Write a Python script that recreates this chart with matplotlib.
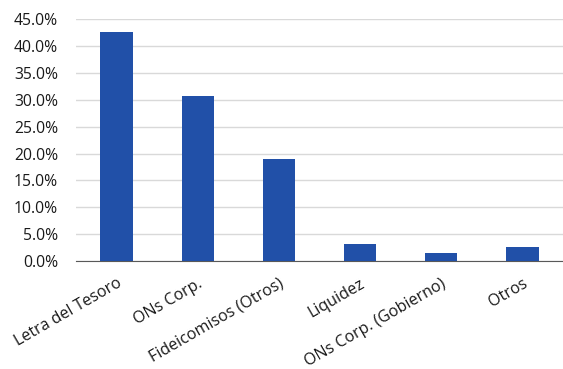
import matplotlib
matplotlib.use("Agg")
import matplotlib.pyplot as plt
from matplotlib.ticker import PercentFormatter, MultipleLocator

categories = ["Letra del Tesoro", "ONs Corp.", "Fideicomisos (Otros)", "Liquidez",
              "ONs Corp. (Gobierno)", "Otros"]
values = [42.7, 30.8, 19.0, 3.2, 1.4, 2.6]

plt.rcParams['font.family'] = ['Open Sans', 'DejaVu Sans']

fig = plt.figure(figsize=(5.63, 3.69), dpi=100)
ax = fig.add_axes([76/563, 1-261/369, 1-76/563, (261-19.3)/369])

x = range(len(categories))
ax.bar(x, values, width=0.4, color="#2150A8", zorder=3)
ax.set_xlim(-0.5, len(categories)-0.5)
ax.set_ylim(0, 45)
ax.yaxis.set_major_locator(MultipleLocator(5))
ax.yaxis.set_major_formatter(PercentFormatter(decimals=1))
ax.grid(axis='y', color="#d9d9d9", linewidth=1, zorder=0)
ax.set_xticks(list(x))
ax.set_xticklabels(categories, rotation=30, ha='right', rotation_mode='anchor')
for s in ['top', 'right', 'left']:
    ax.spines[s].set_visible(False)
ax.spines['bottom'].set_color("#595959")
ax.tick_params(axis='both', length=0, colors="#1a1a1a")
ax.tick_params(axis='y', pad=13, labelsize=11.3)
ax.tick_params(axis='x', pad=10.5, labelsize=11.5)

fig.savefig("out.png", dpi=100)
